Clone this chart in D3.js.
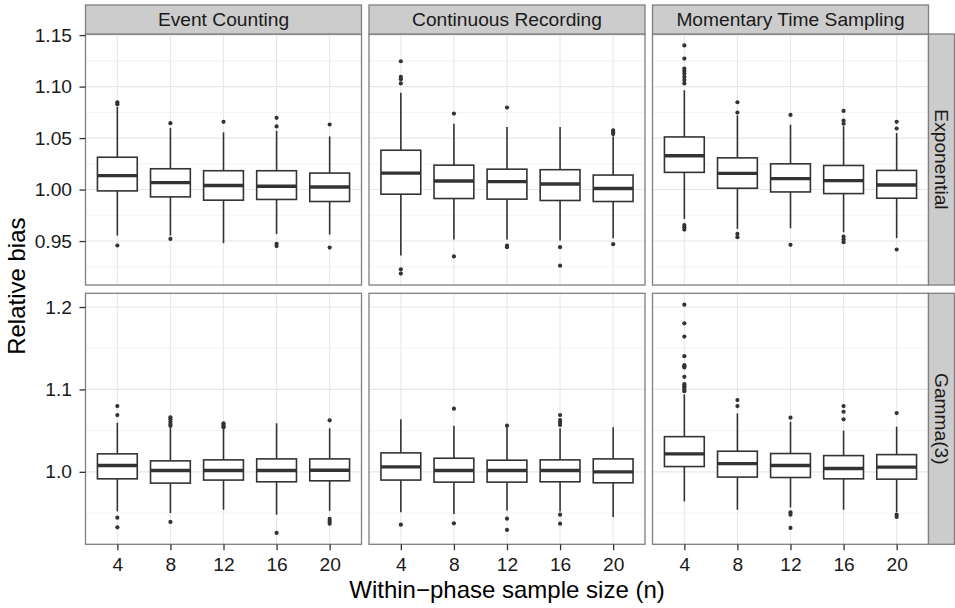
<!DOCTYPE html>
<html>
<head>
<meta charset="utf-8">
<script src="https://cdn.jsdelivr.net/npm/d3@7"></script>
<style>
  html, body { margin: 0; padding: 0; background: #ffffff; }
  svg { display: block; }
  text { font-family: "Liberation Sans", Arial, Helvetica, sans-serif; }
</style>
</head>
<body>
<script>
// Facet labels and the shared x categories
const methods = ["Event Counting", "Continuous Recording", "Momentary Time Sampling"];
const distributions = ["Exponential", "Gamma(3)"];
const sampleSizes = ["4", "8", "12", "16", "20"];

// Tick labels for each facet row
const topRowTicks = [0.95, 1.00, 1.05, 1.10, 1.15];
const topRowMinor = [0.925, 0.975, 1.025, 1.075, 1.125];
const bottomRowTicks = [1.0, 1.1, 1.2];
const bottomRowMinor = [0.95, 1.05, 1.15];

// Box summaries per sample size: [lower whisker, Q1, median, Q3, upper whisker]
const ecExpStats = [
  [0.9553, 0.9987, 1.0135, 1.0314, 1.0805],
  [0.9553, 0.9929, 1.0067, 1.0202, 1.0597],
  [0.9480, 0.9897, 1.0039, 1.0183, 1.0555],
  [0.9569, 0.9904, 1.0032, 1.0183, 1.0571],
  [0.9563, 0.9884, 1.0025, 1.0160, 1.0516]
];
const ecExpOutliers = [
  [1.0848, 1.0829, 0.9457],
  [1.0645, 0.9521],
  [1.0658],
  [1.0697, 1.0613, 0.9473, 0.9451],
  [1.0632, 0.9437]
];

const crExpStats = [
  [0.9360, 0.9955, 1.0160, 1.0382, 1.0940],
  [0.9514, 0.9913, 1.0083, 1.0237, 1.0639],
  [0.9514, 0.9907, 1.0077, 1.0198, 1.0607],
  [0.9505, 0.9894, 1.0054, 1.0193, 1.0607],
  [0.9528, 0.9884, 1.0010, 1.0141, 1.0516]
];
const crExpOutliers = [
  [1.1246, 1.1094, 1.1072, 1.1031, 0.9225, 0.9184],
  [1.0738, 0.9351],
  [1.0796, 0.9457, 0.9441],
  [0.9441, 0.9261],
  [1.0574, 1.0555, 1.0539, 0.9470]
];

const mtsExpStats = [
  [0.9714, 1.0167, 1.0328, 1.0511, 1.0965],
  [0.9618, 1.0013, 1.0157, 1.0308, 1.0720],
  [0.9624, 0.9977, 1.0106, 1.0250, 1.0629],
  [0.9586, 0.9961, 1.0087, 1.0234, 1.0615],
  [0.9528, 0.9916, 1.0044, 1.0186, 1.0549]
];
const mtsExpOutliers = [
  [1.1400, 1.1272, 1.1175, 1.1152, 1.1127, 1.1094, 1.1063, 1.1031, 0.9656, 0.9635, 0.9611],
  [1.0848, 1.0748, 0.9569, 0.9538],
  [1.0725, 0.9463],
  [1.0764, 1.0670, 1.0639, 0.9543, 0.9514, 0.9489],
  [1.0658, 1.0593, 0.9418]
];

const ecGamStats = [
  [0.9520, 0.9915, 1.0077, 1.0218, 1.0596],
  [0.9500, 0.9863, 1.0016, 1.0133, 1.0548],
  [0.9540, 0.9900, 1.0016, 1.0145, 1.0516],
  [0.9480, 0.9879, 1.0016, 1.0157, 1.0589],
  [0.9528, 0.9891, 1.0020, 1.0157, 1.0528]
];
const ecGamOutliers = [
  [1.0798, 1.0689, 0.9444, 0.9327],
  [1.0661, 1.0637, 1.0608, 1.0580, 1.0560, 0.9392],
  [1.0589, 1.0568, 1.0553, 1.0538],
  [0.9259],
  [1.0625, 0.9428, 0.9399, 0.9371]
];

const crGamStats = [
  [0.9508, 0.9900, 1.0060, 1.0230, 1.0637],
  [0.9488, 0.9875, 1.0016, 1.0165, 1.0560],
  [0.9532, 0.9875, 1.0016, 1.0141, 1.0540],
  [0.9520, 0.9879, 1.0016, 1.0145, 1.0528],
  [0.9452, 0.9867, 1.0000, 1.0157, 1.0540]
];
const crGamOutliers = [
  [0.9359],
  [1.0766, 0.9375],
  [1.0560, 0.9432, 0.9295],
  [1.0689, 1.0629, 1.0596, 1.0568, 0.9480, 0.9371],
  []
];

const mtsGamStats = [
  [0.9641, 1.0064, 1.0218, 1.0427, 1.0940],
  [0.9540, 0.9936, 1.0100, 1.0250, 1.0710],
  [0.9568, 0.9931, 1.0077, 1.0222, 1.0608],
  [0.9540, 0.9915, 1.0040, 1.0197, 1.0500],
  [0.9512, 0.9911, 1.0057, 1.0209, 1.0548]
];
const mtsGamOutliers = [
  [1.2028, 1.1802, 1.1641, 1.1403, 1.1294, 1.1282, 1.1266, 1.1153, 1.1064, 1.1040, 1.1024, 1.1000, 1.0979],
  [1.0871, 1.0798],
  [1.0657, 0.9508, 0.9480, 0.9319],
  [1.0798, 1.0729, 1.0637],
  [1.0713, 0.9480, 0.9452]
];

// Facet grid: rows = distributions, columns = methods
const panels = [
  [ {stats: ecExpStats, out: ecExpOutliers}, {stats: crExpStats, out: crExpOutliers}, {stats: mtsExpStats, out: mtsExpOutliers} ],
  [ {stats: ecGamStats, out: ecGamOutliers}, {stats: crGamStats, out: crGamOutliers}, {stats: mtsGamStats, out: mtsGamOutliers} ]
];
const rowTicks = [topRowTicks, bottomRowTicks];
const rowMinor = [topRowMinor, bottomRowMinor];
const rowFormat = [d3.format(".2f"), d3.format(".1f")];

// Layout
const W = 955, H = 608;
const plotLeft = 85.5, plotRight = 928.5, plotTop = 34, plotBottom = 544.3;
const hGap = 7.5, vGap = 8.3;
const pw = (plotRight - plotLeft - 2 * hGap) / 3;
const ph = (plotBottom - plotTop - vGap) / 2;
const stripTop = 5, stripW = 26;
const ink = "#333333", borderCol = "#7f7f7f", stripFill = "#cccccc";

const svg = d3.select("body").append("svg").attr("width", W).attr("height", H);

// One y domain per facet row (free y), padded 5% past the data range
const yDomains = panels.map(row => {
  const vals = [];
  row.forEach(p => {
    p.stats.forEach(s => vals.push(s[0], s[4]));
    p.out.forEach(o => vals.push(...o));
  });
  const lo = d3.min(vals), hi = d3.max(vals), pad = (hi - lo) * 0.05;
  return [lo - pad, hi + pad];
});

panels.forEach((row, r) => {
  const py = plotTop + r * (ph + vGap);
  const y = d3.scaleLinear().domain(yDomains[r]).range([py + ph, py]);

  row.forEach((panel, c) => {
    const px = plotLeft + c * (pw + hGap);
    const x = d3.scalePoint().domain(sampleSizes).range([px, px + pw]).padding(0.6);
    const bw = x.step() * 0.75;
    const g = svg.append("g");

    g.append("rect").attr("x", px).attr("y", py).attr("width", pw).attr("height", ph).attr("fill", "#ffffff");

    // grid lines
    g.selectAll(".minor").data(rowMinor[r]).join("line")
      .attr("x1", px).attr("x2", px + pw).attr("y1", d => y(d)).attr("y2", d => y(d))
      .attr("stroke", "#f5f5f5").attr("stroke-width", 1.1);
    g.selectAll(".majorY").data(rowTicks[r]).join("line")
      .attr("x1", px).attr("x2", px + pw).attr("y1", d => y(d)).attr("y2", d => y(d))
      .attr("stroke", "#e8e8e8").attr("stroke-width", 1.1);
    g.selectAll(".majorX").data(sampleSizes).join("line")
      .attr("x1", d => x(d)).attr("x2", d => x(d)).attr("y1", py).attr("y2", py + ph)
      .attr("stroke", "#e8e8e8").attr("stroke-width", 1.1);

    // boxplots
    sampleSizes.forEach((n, i) => {
      const s = panel.stats[i];
      const cx = x(n);
      const bg = g.append("g");
      bg.append("line").attr("x1", cx).attr("x2", cx).attr("y1", y(s[0])).attr("y2", y(s[1]))
        .attr("stroke", ink).attr("stroke-width", 1.6);
      bg.append("line").attr("x1", cx).attr("x2", cx).attr("y1", y(s[3])).attr("y2", y(s[4]))
        .attr("stroke", ink).attr("stroke-width", 1.6);
      bg.append("rect").attr("x", cx - bw / 2).attr("y", y(s[3]))
        .attr("width", bw).attr("height", y(s[1]) - y(s[3]))
        .attr("fill", "#ffffff").attr("stroke", ink).attr("stroke-width", 1.6);
      bg.append("line").attr("x1", cx - bw / 2).attr("x2", cx + bw / 2)
        .attr("y1", y(s[2])).attr("y2", y(s[2]))
        .attr("stroke", ink).attr("stroke-width", 3.4);
      bg.selectAll("circle").data(panel.out[i]).join("circle")
        .attr("cx", cx).attr("cy", d => y(d)).attr("r", 2.1).attr("fill", ink);
    });

    // panel border
    g.append("rect").attr("x", px).attr("y", py).attr("width", pw).attr("height", ph)
      .attr("fill", "none").attr("stroke", borderCol).attr("stroke-width", 1.3);

    // column strips on the top row
    if (r === 0) {
      g.append("rect").attr("x", px).attr("y", stripTop).attr("width", pw).attr("height", plotTop - stripTop)
        .attr("fill", stripFill).attr("stroke", borderCol).attr("stroke-width", 1.3);
      g.append("text").attr("x", px + pw / 2).attr("y", (stripTop + plotTop) / 2)
        .attr("text-anchor", "middle").attr("dominant-baseline", "central")
        .attr("font-size", 19.2).attr("fill", "#1a1a1a").text(methods[c]);
    }

    // x axis on the bottom row
    if (r === panels.length - 1) {
      const ax = svg.append("g").attr("transform", `translate(0,${py + ph})`)
        .call(d3.axisBottom(x).tickSize(6).tickPadding(7));
      ax.select(".domain").remove();
      ax.selectAll(".tick line").attr("stroke", ink).attr("stroke-width", 1.3);
      ax.selectAll(".tick text").attr("font-size", 19.2).attr("fill", "#1a1a1a")
        .attr("font-family", "Liberation Sans, Arial, sans-serif");
    }
  });

  // y axis per row
  const ay = svg.append("g").attr("transform", `translate(${plotLeft},0)`)
    .call(d3.axisLeft(y).tickValues(rowTicks[r]).tickFormat(rowFormat[r]).tickSize(6).tickPadding(7.5));
  ay.select(".domain").remove();
  ay.selectAll(".tick line").attr("stroke", ink).attr("stroke-width", 1.3);
  ay.selectAll(".tick text").attr("font-size", 19.2).attr("fill", "#1a1a1a")
    .attr("font-family", "Liberation Sans, Arial, sans-serif");

  // row strip on the right
  svg.append("rect").attr("x", plotRight).attr("y", py).attr("width", stripW).attr("height", ph)
    .attr("fill", stripFill).attr("stroke", borderCol).attr("stroke-width", 1.3);
  svg.append("text")
    .attr("transform", `translate(${plotRight + stripW / 2},${py + ph / 2}) rotate(90)`)
    .attr("text-anchor", "middle").attr("dominant-baseline", "central")
    .attr("font-size", 19.2).attr("fill", "#1a1a1a").text(distributions[r]);
});

// axis titles
svg.append("text").attr("x", (plotLeft + plotRight) / 2).attr("y", 598)
  .attr("text-anchor", "middle").attr("font-size", 24).attr("fill", "#000")
  .text("Within\u2212phase sample size (n)");
svg.append("text").attr("transform", `translate(25,${(plotTop + plotBottom) / 2 - 3}) rotate(-90)`)
  .attr("text-anchor", "middle").attr("font-size", 24).attr("fill", "#000")
  .text("Relative bias");
</script>
</body>
</html>
